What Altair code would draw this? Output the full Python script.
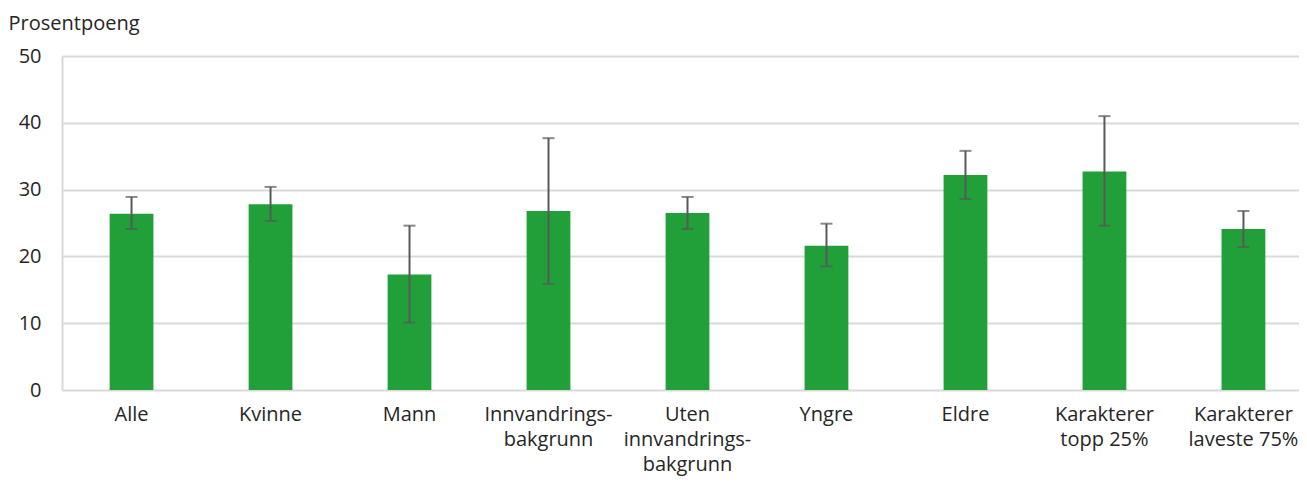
import altair as alt
import pandas as pd

categories = ["Alle", "Kvinne", "Mann", "Innvandrings-|bakgrunn", "Uten|innvandrings-|bakgrunn",
              "Yngre", "Eldre", "Karakterer|topp 25%", "Karakterer|laveste 75%"]
values = [26.4, 27.8, 17.3, 26.8, 26.5, 21.6, 32.2, 32.7, 24.1]
low = [24.1, 25.3, 10.1, 15.9, 24.1, 18.5, 28.6, 24.6, 21.4]
high = [28.9, 30.4, 24.6, 37.7, 28.9, 24.9, 35.8, 41.0, 26.8]
y_ticks = [0, 10, 20, 30, 40, 50]

df = pd.DataFrame({"cat": categories, "val": values, "low": low, "high": high})

FONT = "Open Sans"
GRID = "#d9d9d9"
FS = 20

xscale = alt.Scale(paddingInner=0.685, paddingOuter=0.2925, align=0.586)

x = alt.X("cat:N", sort=categories, title=None, scale=xscale,
          axis=alt.Axis(labelAngle=0, labelExpr="split(datum.value, '|')", domain=False, ticks=False,
                        labelPadding=14, labelLineHeight=25, labelFont=FONT, labelFontSize=FS,
                        labelColor="#262626", labelLimit=300))

base = alt.Chart(df)

bars = base.mark_bar(color="#21a03a").encode(
    x=x,
    y=alt.Y("val:Q", scale=alt.Scale(domain=[0, 50], nice=False),
            axis=alt.Axis(values=y_ticks, grid=True, gridColor=GRID, gridWidth=2, domain=True,
                          domainColor=GRID, domainWidth=2, ticks=False, labelPadding=21,
                          labelFont=FONT, labelFontSize=FS, labelColor="#262626",
                          title="Prosentpoeng", titleAngle=0, titleAlign="left",
                          titleBaseline="alphabetic", titleX=-54, titleY=-27, titleFont=FONT,
                          titleFontSize=FS, titleFontWeight="normal", titleColor="#262626")),
)

rules = base.mark_rule(color="#595959", strokeWidth=2).encode(
    x=alt.X("cat:N", sort=categories), y="low:Q", y2="high:Q")
caps_hi = base.mark_tick(color="#595959", thickness=2, size=12).encode(
    x=alt.X("cat:N", sort=categories), y="high:Q")
caps_lo = base.mark_tick(color="#595959", thickness=2, size=12).encode(
    x=alt.X("cat:N", sort=categories), y="low:Q")

chart = alt.layer(bars, rules, caps_hi, caps_lo).properties(
    width=1237, height=334, padding={"left": 0, "top": 5, "right": 0, "bottom": 4}
).configure_view(stroke=None)

chart.save("out.html", embed_options={"renderer": "svg", "actions": False})
